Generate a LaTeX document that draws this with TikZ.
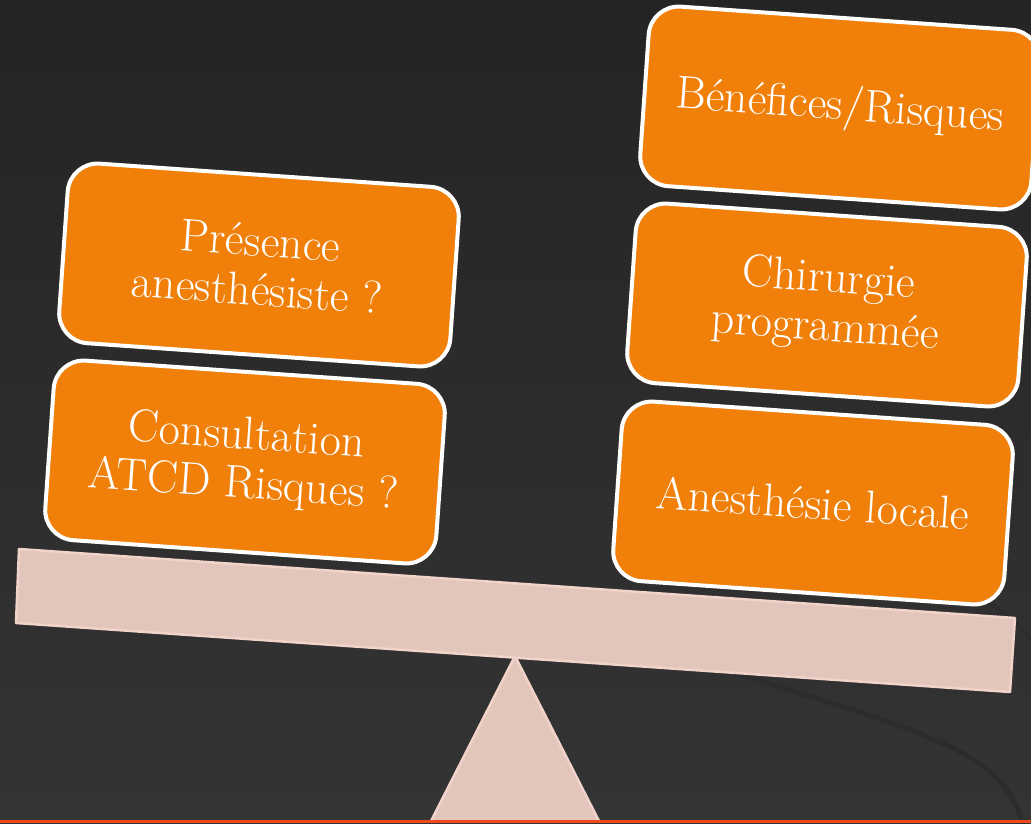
\documentclass[tikz,border=0pt]{standalone}
\usepackage{fontspec}
\definecolor{bgtop}{HTML}{242424}
\definecolor{bgmid}{HTML}{2D2D2D}
\definecolor{bgbot}{HTML}{343434}
\definecolor{boxorange}{HTML}{F0800A}
\definecolor{beamfill}{HTML}{E2C6BB}
\definecolor{beamedge}{HTML}{F2D3C9}
\definecolor{bottomline}{HTML}{EC4A1C}
\definecolor{swoosh}{HTML}{2C2C2C}
\begin{document}
\begin{tikzpicture}[x=1pt,y=-1pt,
  weight/.style={draw=white, line width=4pt, fill=boxorange, rounded corners=30pt,
    minimum width=392pt, minimum height=180pt, text=white, align=center,
    rotate=-4, inner sep=0pt, font=\fontsize{46}{49}\selectfont},
  beamstyle/.style={fill=beamfill, draw=beamedge, line width=2.5pt, line join=round}]
  % background
  \useasboundingbox (0,0) rectangle (1031,823);
  \shade[top color=bgtop, middle color=bgmid, bottom color=bgbot] (0,0) rectangle (1031,823);
  % faint background swoosh
  \draw[swoosh, line width=5pt, line cap=round]
    (592,600) .. controls (640,650) and (760,680) .. (860,712)
    .. controls (960,745) and (1010,770) .. (1022,823);
  \draw[swoosh, line width=4pt, line cap=round]
    (985,600) .. controls (1005,612) and (1020,625) .. (1031,640);
  % fulcrum
  \draw[beamstyle] (515,656) -- (431,821) -- (599,821) -- cycle;
  % beam
  \draw[beamstyle] (19,549) -- (1015,618) -- (1010,692) -- (16,623) -- cycle;
  % bottom line
  \fill[bottomline] (0,819.5) rectangle (1031,823);
  % weights left
  \node[weight] (b1) at (259,265) {Présence\\anesthésiste ?};
  \node[weight] (b2) at (245,462) {Consultation\\ATCD Risques ?};
  % weights right
  \node[weight] (b3) at (840,108) {Bénéfices/Risques};
  \node[weight] (b4) at (827,305) {Chirurgie\\programmée};
  \node[weight] (b5) at (813,503) {Anesthésie locale};
\end{tikzpicture}
\end{document}
